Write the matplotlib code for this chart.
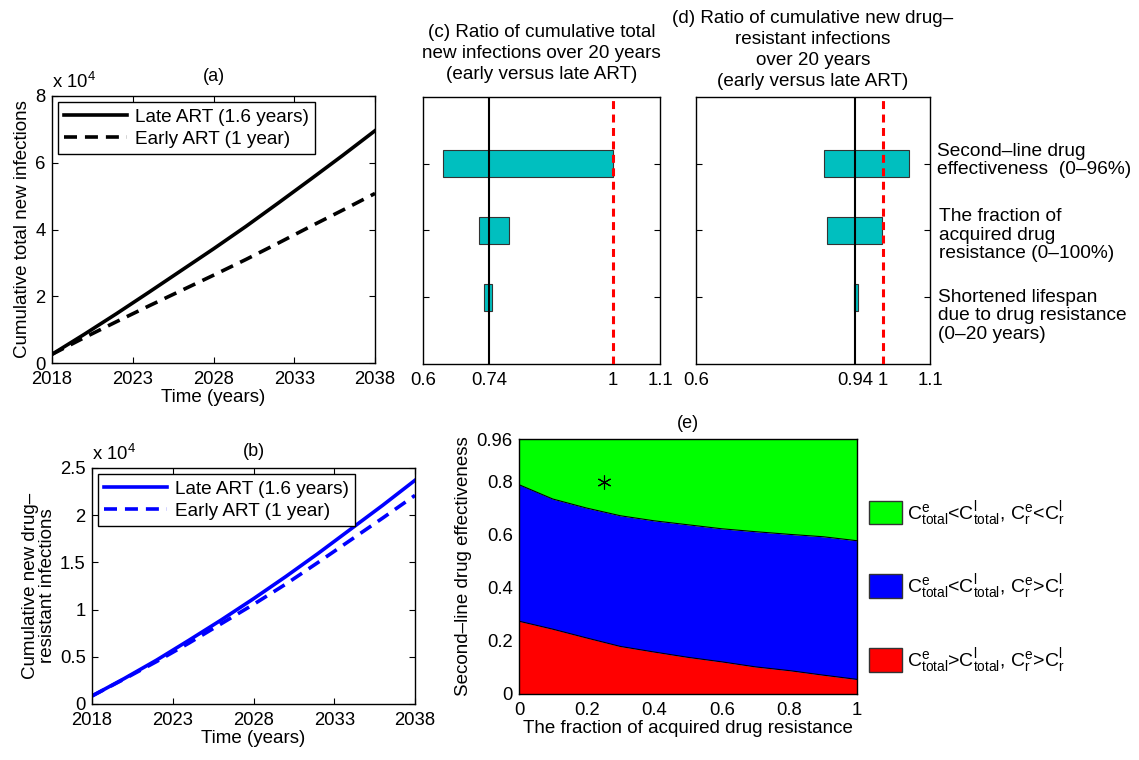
import numpy as np
import matplotlib.pyplot as plt
from matplotlib.patches import Patch

plt.rcParams['font.family'] = ['Liberation Sans', 'DejaVu Sans']
plt.rcParams['mathtext.fontset'] = 'custom'
plt.rcParams['mathtext.rm'] = 'Liberation Sans'
plt.rcParams['mathtext.it'] = 'Liberation Sans'
plt.rcParams['font.size'] = 13.3
plt.rcParams['axes.labelsize'] = 13.5
plt.rcParams['axes.titlesize'] = 13.6
plt.rcParams['legend.fontsize'] = 13.7
plt.rcParams['xtick.direction'] = 'in'
plt.rcParams['ytick.direction'] = 'in'
plt.rcParams['xtick.top'] = True
plt.rcParams['ytick.right'] = True
plt.rcParams['xtick.major.size'] = 4
plt.rcParams['ytick.major.size'] = 4
plt.rcParams['xtick.major.pad'] = 5.5
plt.rcParams['ytick.major.pad'] = 4.5
plt.rcParams['axes.linewidth'] = 1.0

# (a) cumulative total new infections (x 10^4)
years = [2018, 2020, 2022, 2024, 2026, 2028, 2030, 2032, 2034, 2036, 2038]
late_total = [0.26, 0.86, 1.48, 2.12, 2.77, 3.42, 4.09, 4.79, 5.50, 6.22, 6.96]
early_total = [0.26, 0.76, 1.24, 1.71, 2.17, 2.63, 3.10, 3.59, 4.09, 4.58, 5.08]

# (b) cumulative new drug-resistant infections (x 10^4)
late_res = [0.085, 0.27, 0.465, 0.675, 0.89, 1.115, 1.35, 1.595, 1.85, 2.105, 2.37]
early_res = [0.085, 0.265, 0.45, 0.645, 0.85, 1.055, 1.27, 1.50, 1.735, 1.97, 2.21]

# (c), (d) sensitivity ranges: second-line, fraction acquired, lifespan
params = ['Second\u2013line drug\neffectiveness  (0\u201396%)',
          'The fraction of\nacquired drug\nresistance (0\u2013100%)',
          'Shortened lifespan\ndue to drug resistance\n(0\u201320 years)']
c_low = [0.642, 0.719, 0.729]
c_high = [1.0, 0.781, 0.745]
c_base = 0.74
d_low = [0.873, 0.879, 0.938]
d_high = [1.056, 0.997, 0.947]
d_base = 0.94

# (e) region boundaries
frac = [0, 0.1, 0.2, 0.3, 0.4, 0.5, 0.6, 0.7, 0.8, 0.9, 1.0]
upper = [0.788, 0.734, 0.700, 0.671, 0.652, 0.637, 0.622, 0.611, 0.601, 0.592, 0.577]
lower = [0.274, 0.244, 0.211, 0.179, 0.158, 0.138, 0.121, 0.102, 0.088, 0.071, 0.055]
star = (0.25, 0.80)

W, H = 1139, 760
fig = plt.figure(figsize=(W / 100, H / 100), dpi=100)

def box(l, t, r, b):
    return [l / W, 1 - b / H, (r - l) / W, (b - t) / H]

def time_axes(ax, ymax, yticks, ylabels):
    ax.set_xlim(2018, 2038)
    ax.set_ylim(0, ymax)
    ax.set_xticks([2018, 2023, 2028, 2033, 2038])
    ax.set_yticks(yticks)
    ax.set_yticklabels(ylabels)
    ax.set_xlabel('Time (years)', labelpad=1)
    ax.text(0, 1.015, 'x 10$^4$', transform=ax.transAxes, ha='left', va='bottom')
    leg = ax.legend(loc='upper left', fancybox=False, edgecolor='k', framealpha=1,
                    borderaxespad=0.3, handlelength=3.3, borderpad=0.35, labelspacing=0.25,
                    handletextpad=0.4)
    leg.get_frame().set_linewidth(1.0)

# ---- (a)
ax_a = fig.add_axes(box(52, 96, 375, 363))
ax_a.plot(years, late_total, color='k', lw=2.6, label='Late ART (1.6 years)')
ax_a.plot(years, early_total, color='k', lw=2.6, dashes=(3.6, 2.2), label='Early ART (1 year)')
ax_a.set_ylabel('Cumulative total new infections', labelpad=3)
ax_a.set_title('(a)', pad=11, fontsize=13)
time_axes(ax_a, 8, [0, 2, 4, 6, 8], ['0', '2', '4', '6', '8'])

# ---- (b)
ax_b = fig.add_axes(box(92, 468, 415, 704))
ax_b.plot(years, late_res, color='#0000ff', lw=2.6, label='Late ART (1.6 years)')
ax_b.plot(years, early_res, color='#0000ff', lw=2.6, dashes=(3.6, 2.2), label='Early ART (1 year)')
ax_b.set_ylabel('Cumulative new drug\u2013\nresistant infections', labelpad=3, linespacing=1.0)
ax_b.set_title('(b)', pad=9, fontsize=13)
time_axes(ax_b, 2.5, [0, 0.5, 1, 1.5, 2, 2.5], ['0', '0.5', '1', '1.5', '2', '2.5'])

# ---- (c) and (d)
ypos = [3, 2, 1]

def tornado(ax, low, high, base, ticks, labels):
    ax.barh(ypos, np.array(high) - np.array(low), left=low, height=0.4,
            color='#00bfbf', edgecolor='#333333', linewidth=0.8, zorder=2)
    ax.axvline(base, color='k', lw=1.5, zorder=3)
    ax.axvline(1.0, color='#ff0000', lw=2.2, dashes=(2.6, 1.8), zorder=4)
    ax.set_xlim(0.6, 1.1)
    ax.set_ylim(0, 4)
    ax.set_yticks(ypos)
    ax.set_yticklabels([])
    ax.set_xticks(ticks)
    ax.set_xticklabels(labels)
    ax.tick_params(axis='x', length=0)

ax_c = fig.add_axes(box(423, 97, 660, 364))
tornado(ax_c, c_low, c_high, c_base, [0.6, 0.74, 1, 1.1], ['0.6', '0.74', '1', '1.1'])
ax_c.set_title('(c) Ratio of cumulative total\nnew infections over 20 years\n(early versus late ART)',
               pad=13, linespacing=1.3)

ax_d = fig.add_axes(box(696, 97, 930, 364))
tornado(ax_d, d_low, d_high, d_base, [0.6, 0.94, 1, 1.1], ['0.6', '0.94', '1', '1.1'])
ax_d.set_title('(d) Ratio of cumulative new drug\u2013\nresistant infections\nover 20 years\n(early versus late ART)',
               pad=8, linespacing=1.3)
text_y = [3.05, 1.93, 0.72]
text_x = [1.028, 1.04, 1.035]
for lab, ty, tx in zip(params, text_y, text_x):
    ax_d.text(tx, ty, lab, transform=ax_d.get_yaxis_transform(), ha='left', va='center',
              linespacing=1.12, fontsize=13.8)

# ---- (e)
ax_e = fig.add_axes(box(519, 439, 857, 694))
ax_e.fill_between(frac, 0, lower, color='#ff0000', lw=0)
ax_e.fill_between(frac, lower, upper, color='#0000ff', lw=0)
ax_e.fill_between(frac, upper, 0.96, color='#00ff00', lw=0)
ax_e.plot(frac, lower, color='k', lw=0.8)
ax_e.plot(frac, upper, color='k', lw=0.8)
ax_e.plot([star[0]], [star[1]], marker=(6, 2, 0), color='k', ms=10, mew=0.8, ls='none')
ax_e.set_xlim(0, 1)
ax_e.set_ylim(0, 0.96)
ax_e.set_xticks([0, 0.2, 0.4, 0.6, 0.8, 1])
ax_e.set_xticklabels(['0', '0.2', '0.4', '0.6', '0.8', '1'])
ax_e.set_yticks([0, 0.2, 0.4, 0.6, 0.8, 0.96])
ax_e.set_yticklabels(['0', '0.2', '0.4', '0.6', '0.8', '0.96'])
ax_e.tick_params(length=0)
ax_e.set_xlabel('The fraction of acquired drug resistance', labelpad=1)
ax_e.set_ylabel('Second\u2013line drug effectiveness', labelpad=3)
ax_e.set_title('(e)', pad=8, fontsize=13)

handles = [Patch(facecolor='#00ff00', edgecolor='#333333'),
           Patch(facecolor='#0000ff', edgecolor='#333333'),
           Patch(facecolor='#ff0000', edgecolor='#333333')]
labels = ['C$^e_{total}$<C$^l_{total}$, C$^e_r$<C$^l_r$',
          'C$^e_{total}$<C$^l_{total}$, C$^e_r$>C$^l_r$',
          'C$^e_{total}$>C$^l_{total}$, C$^e_r$>C$^l_r$']
fig.legend(handles, labels, loc='center left', bbox_to_anchor=(869 / W, 1 - 587 / H),
           frameon=False, borderpad=0, borderaxespad=0, handlelength=1.7,
           handleheight=1.5, handletextpad=0.25, labelspacing=2.3, fontsize=14)

fig.savefig('out.png', dpi=100)
